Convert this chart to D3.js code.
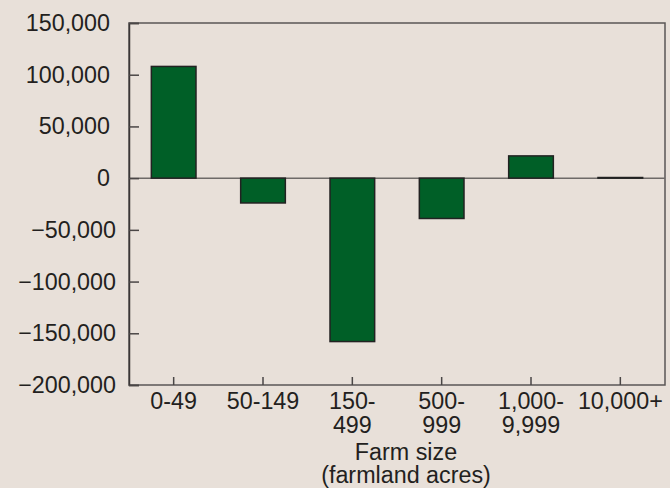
<!DOCTYPE html>
<html lang="en">
<head>
    <meta charset="UTF-8">
    <title>Change in farms by farm size</title>
    <style>
        html, body { margin: 0; padding: 0; background: #e8e0d9; }
        svg { display: block; font-family: "Liberation Sans", Arial, Helvetica, sans-serif; }
    </style>
</head>
<body>

    <script src="https://d3js.org/d3.v7.min.js"></script>
    <script>
        // Data
        const sizes = ["0-49", "50-149", "150-499", "500-999", "1,000-9,999", "10,000+"];
        const sizeLabels = [["0-49"], ["50-149"], ["150-", "499"], ["500-", "999"], ["1,000-", "9,999"], ["10,000+"]];
        const change = [108000, -24000, -158000, -39000, 21500, 600];
        const yTicks = [-200000, -150000, -100000, -50000, 0, 50000, 100000, 150000];

        const W = 670, H = 488,
            margin = {top: 23, right: 5, bottom: 103, left: 129},
            width = W - margin.left - margin.right,
            height = H - margin.top - margin.bottom,
            ink = "#231f20",
            fontSize = "23.3px";

        const svg = d3.select("body").append("svg")
            .attr("width", W)
            .attr("height", H);

        const g = svg.append("g")
            .attr("transform", "translate(" + margin.left + "," + margin.top + ")");

        const x = d3.scaleBand()
            .domain(sizes)
            .range([0, width])
            .paddingInner(0.5)
            .paddingOuter(0.25);

        const y = d3.scaleLinear()
            .domain([-200000, 150000])
            .range([height, 0]);

        // frame
        g.append("rect")
            .attr("width", width)
            .attr("height", height)
            .attr("fill", "none")
            .attr("stroke", "#5a5656")
            .attr("stroke-width", 1.5);

        // zero line
        g.append("line")
            .attr("x1", 0).attr("x2", width)
            .attr("y1", y(0)).attr("y2", y(0))
            .attr("stroke", "#6e6a68")
            .attr("stroke-width", 1.5);

        // bars
        g.selectAll(".bar")
            .data(change)
            .enter()
            .append("rect")
            .attr("class", "bar")
            .attr("x", function(d, i) { return x(sizes[i]); })
            .attr("width", x.bandwidth())
            .attr("y", function(d) { return y(Math.max(0, d)); })
            .attr("height", function(d) { return Math.abs(y(d) - y(0)); })
            .attr("fill", "#005f27")
            .attr("stroke", "#222")
            .attr("stroke-width", 1.5);

        // y axis
        const fmt = d3.format(",");
        const yAxis = g.append("g")
            .call(d3.axisLeft(y).tickValues(yTicks).tickSize(-10).tickPadding(0).tickFormat(fmt));
        yAxis.select(".domain").attr("stroke", "#3a3636").attr("stroke-width", 1.5);
        yAxis.selectAll(".tick line").attr("stroke", "#4a4646").attr("stroke-width", 1.5);
        yAxis.selectAll(".tick text")
            .attr("x", function(d) { return d < 0 ? -13 : -19; })
            .attr("fill", ink)
            .style("font-size", fontSize);

        // x axis
        const xAxis = g.append("g")
            .attr("transform", "translate(0," + height + ")")
            .call(d3.axisBottom(x).tickSize(-8).tickFormat(""));
        xAxis.select(".domain").remove();
        xAxis.selectAll(".tick line").attr("stroke", "#4a4646").attr("stroke-width", 1.5);
        xAxis.selectAll(".tick text").remove();

        sizeLabels.forEach(function(lines, i) {
            const t = g.append("text")
                .attr("x", x(sizes[i]) + x.bandwidth() / 2)
                .attr("y", height + 24)
                .attr("text-anchor", "middle")
                .attr("fill", ink)
                .style("font-size", fontSize);
            lines.forEach(function(l, j) {
                t.append("tspan")
                    .attr("x", x(sizes[i]) + x.bandwidth() / 2)
                    .attr("dy", j === 0 ? 0 : 23.5)
                    .text(l);
            });
        });

        // axis title
        const title = svg.append("text")
            .attr("text-anchor", "middle")
            .attr("fill", ink)
            .style("font-size", fontSize);
        title.append("tspan").attr("x", 406).attr("y", 460).text("Farm size");
        title.append("tspan").attr("x", 406).attr("y", 483).text("(farmland acres)");
    </script>
</body>
</html>
